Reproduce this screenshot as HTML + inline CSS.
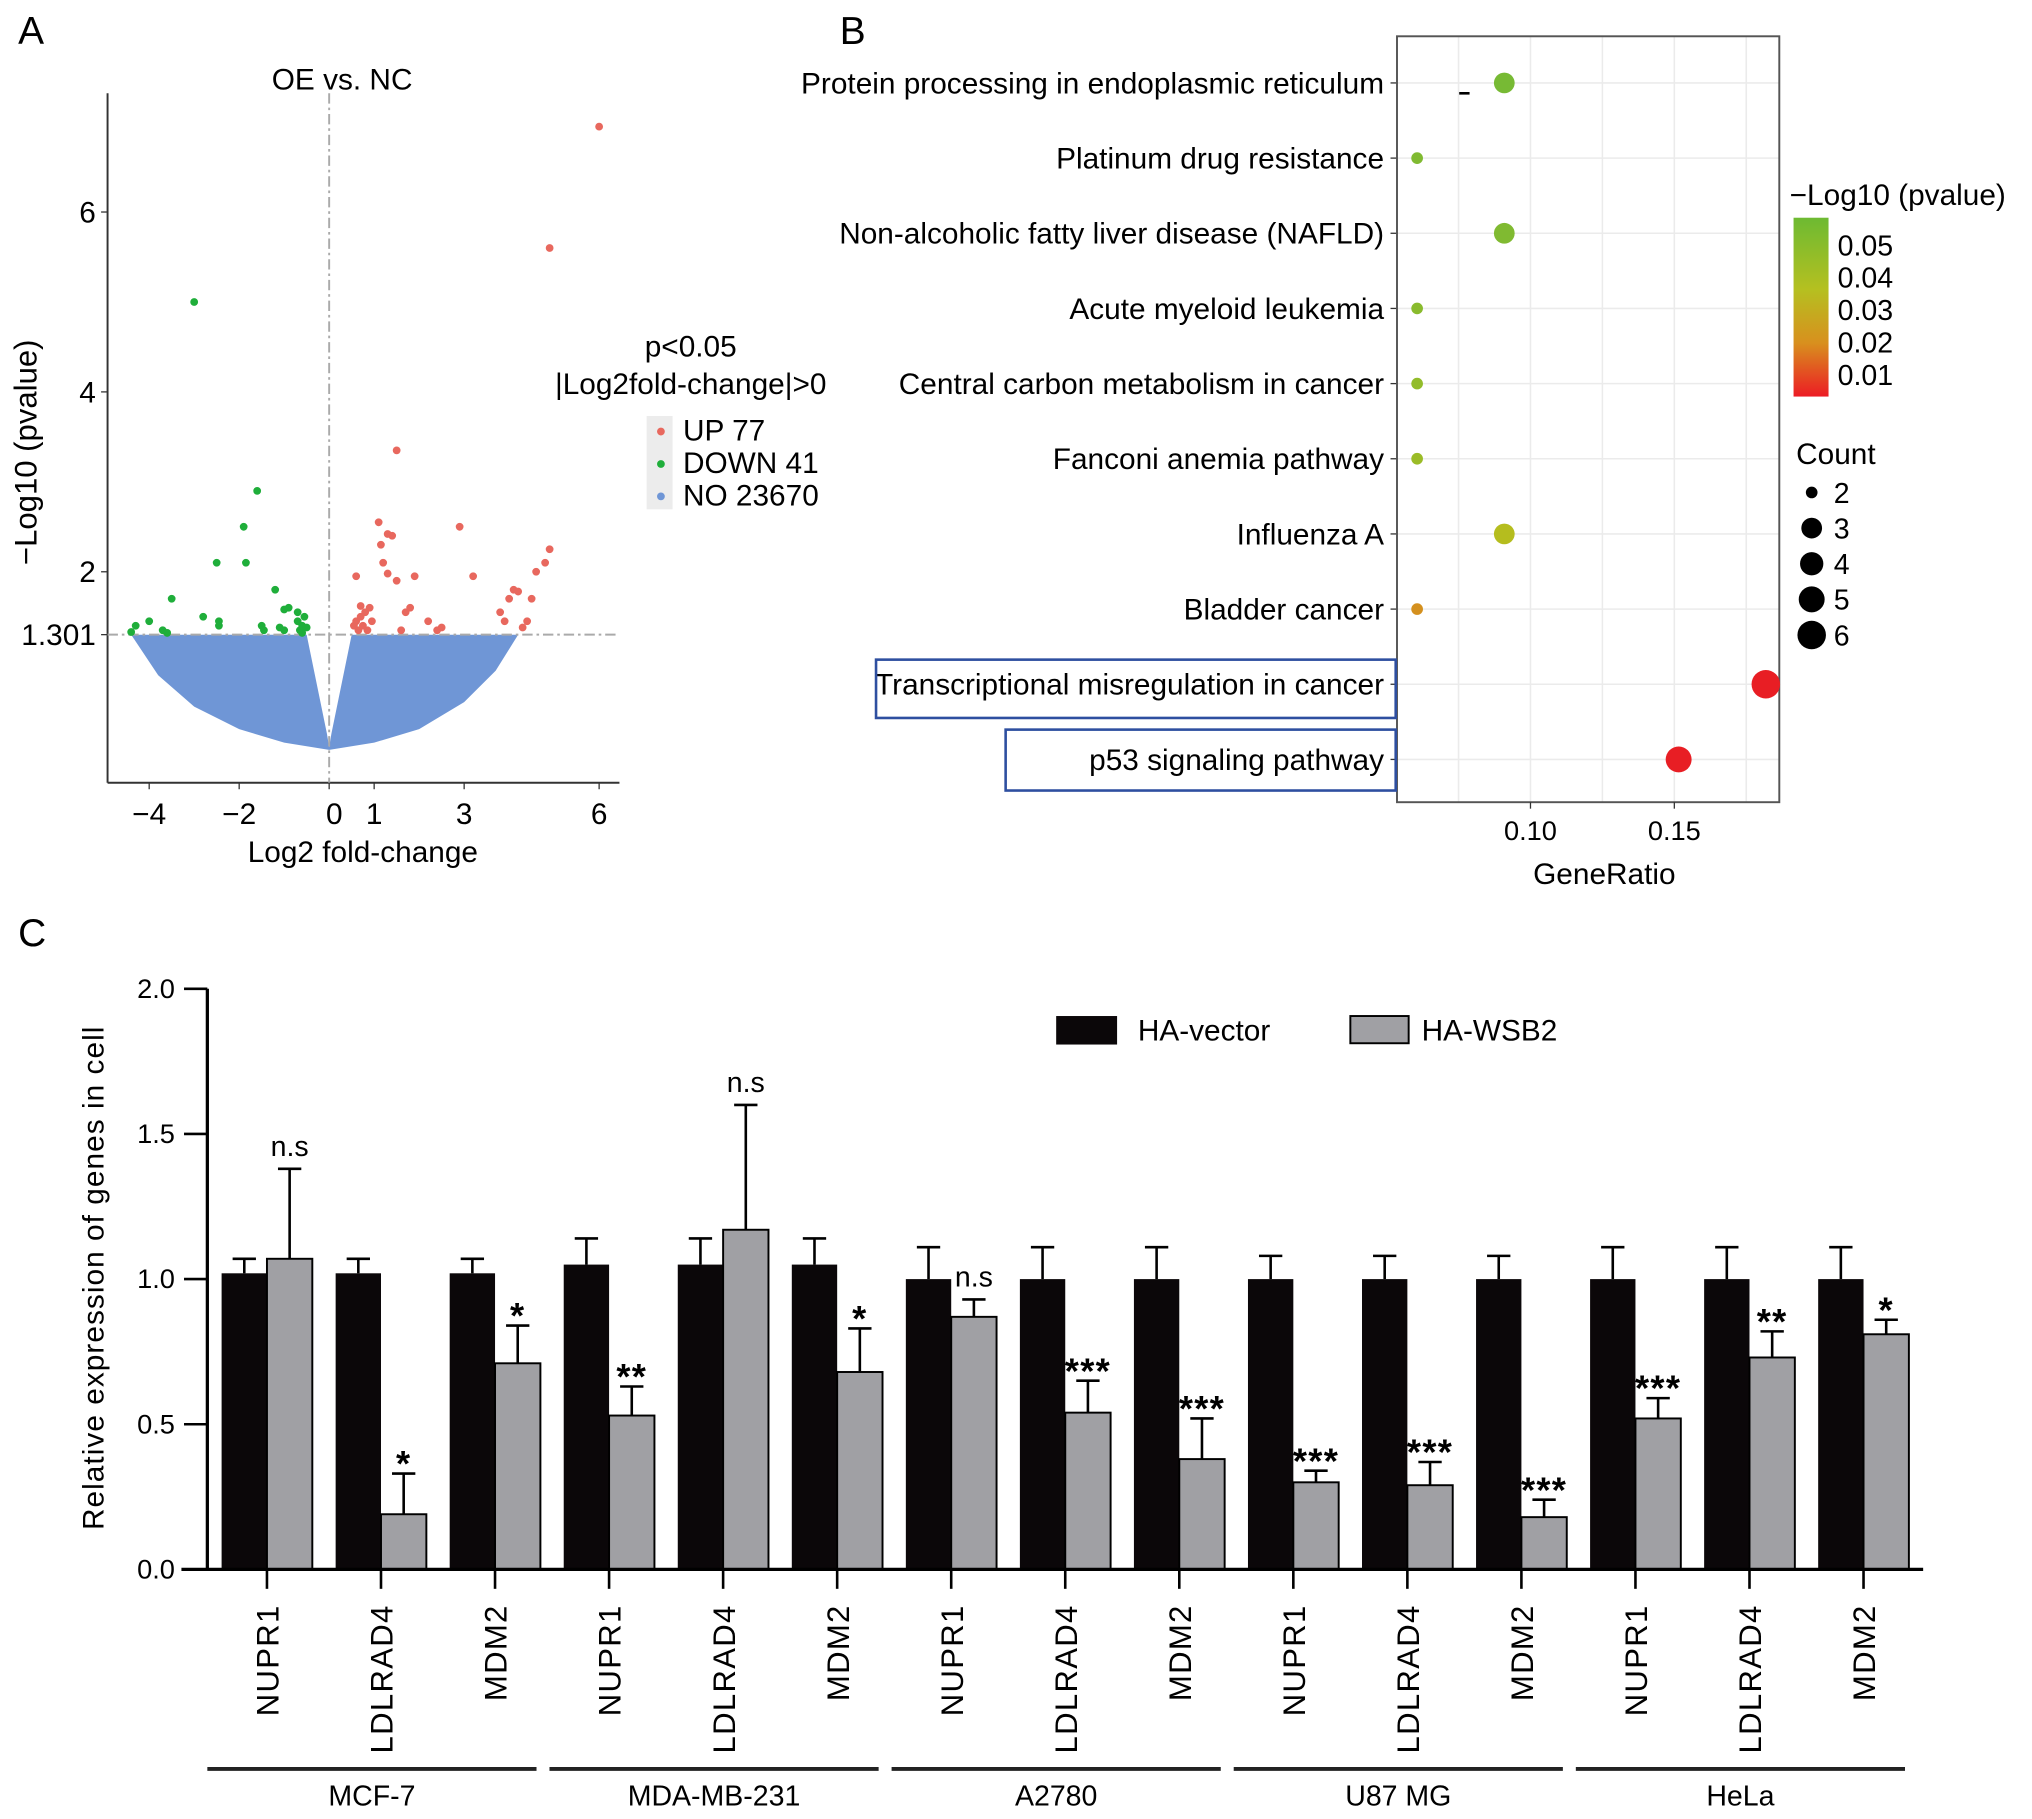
<!DOCTYPE html>
<html><head><meta charset="utf-8"><style>
html,body{margin:0;padding:0;background:#fff;}
svg{display:block;font-family:"Liberation Sans",Arial,sans-serif;}
</style></head><body>
<svg id="fig" width="2032" height="1819" viewBox="0 0 1568 1403.6" preserveAspectRatio="none" xmlns="http://www.w3.org/2000/svg">
<rect width="1568" height="1404" fill="#fff"/>
<text x="14" y="34" font-size="30">A</text>
<text x="648" y="34" font-size="30">B</text>
<text x="14" y="730" font-size="30">C</text>
<g id="pa"></g>
<g id="pb"></g>
<g id="pc"></g>
</svg>
<script>
const NS="http://www.w3.org/2000/svg";
function mk(parent,tag,attrs,txt){const e=document.createElementNS(NS,tag);for(const k in attrs)e.setAttribute(k,attrs[k]);if(txt!==undefined)e.textContent=txt;parent.appendChild(e);return e;}

/* ---------- Panel A data ---------- */
const upX=[6,4.9,1.5,1.1,1.4,1.3,2.9,1.15,4.9,1.2,3.2,1.3,1.9,1.5,0.6,4.6,4.8,4.1,4.2,4.0,4.5,3.8,1.7,1.8,2.2,2.5,2.4,1.6,4.4,4.3,3.9,0.6,0.7,0.8,0.9,0.75,0.85,0.65,0.95,0.55,0.7];
const upY=[6.95,5.6,3.35,2.55,2.4,2.42,2.5,2.3,2.25,2.1,1.95,1.98,1.95,1.9,1.95,2.0,2.1,1.8,1.78,1.7,1.7,1.55,1.55,1.6,1.45,1.38,1.35,1.35,1.45,1.38,1.45,1.45,1.5,1.55,1.6,1.4,1.35,1.35,1.45,1.4,1.62];
const downX=[-3,-1.6,-1.9,-1.85,-2.5,-1.2,-3.5,-2.8,-0.9,-1.0,-0.7,-2.45,-2.45,-4.0,-4.3,-4.4,-3.7,-3.6,-1.5,-1.45,-1.1,-1.0,-0.7,-0.6,-0.65,-0.55,-0.6,-0.5];
const downY=[5.0,2.9,2.5,2.1,2.1,1.8,1.7,1.5,1.6,1.58,1.55,1.45,1.4,1.45,1.4,1.33,1.35,1.32,1.4,1.35,1.38,1.35,1.45,1.4,1.35,1.5,1.32,1.38];
const cloudX=[-4.4,-3.8,-3,-2,-1,0,1,2,3,3.7,4.2,0.5,0.05,0,-0.05,-0.5];
const cloudY=[1.3,0.85,0.5,0.25,0.1,0.02,0.1,0.25,0.55,0.9,1.3,1.3,0.2,0.05,0.2,1.3];
const aXTicks=[-4,-2,0,1,3,6];
const aYTicks=[6,4,2,1.301];
const ax=v=>254+v*34.72, ay=v=>580-v*69.4;
const pa=document.getElementById('pa');
mk(pa,'line',{x1:83,y1:72,x2:83,y2:604,stroke:'#333','stroke-width':1.5});
mk(pa,'line',{x1:83,y1:604,x2:478,y2:604,stroke:'#333','stroke-width':1.5});
let cp=cloudX.map((x,i)=>ax(x)+','+ay(cloudY[i])).join(' ');
const cl=mk(pa,'polygon',{points:cp,fill:'#6f96d6'});


mk(pa,'line',{x1:ax(0),y1:72,x2:ax(0),y2:604,stroke:'#aaa','stroke-width':1.5,'stroke-dasharray':'8,3,2,3'});
mk(pa,'line',{x1:83,y1:ay(1.301),x2:478,y2:ay(1.301),stroke:'#aaa','stroke-width':1.5,'stroke-dasharray':'8,3,2,3'});
upX.forEach((x,i)=>{const c=mk(pa,'circle',{cx:ax(x),cy:ay(upY[i]),r:3,fill:'#e8685e'});

});
downX.forEach((x,i)=>{const c=mk(pa,'circle',{cx:ax(x),cy:ay(downY[i]),r:3,fill:'#1fae3a'});

});
aXTicks.forEach(v=>{mk(pa,'line',{x1:ax(v),y1:604,x2:ax(v),y2:609,stroke:'#333'});
const t=mk(pa,'text',{x:ax(v)+(v===0?4:0),y:636,'font-size':23,'text-anchor':'middle'},v<0?'\u2212'+(-v):String(v));

});
aYTicks.forEach(v=>{mk(pa,'line',{x1:78,y1:ay(v),x2:83,y2:ay(v),stroke:'#333'});
const t=mk(pa,'text',{x:74,y:ay(v)+8,'font-size':23,'text-anchor':'end'},String(v));

});
mk(pa,'text',{x:264,y:69,'font-size':23,'text-anchor':'middle',},'OE vs. NC');
mk(pa,'text',{x:280,y:665,'font-size':23,'text-anchor':'middle',},'Log2 fold-change');
mk(pa,'text',{x:0,y:0,'font-size':24,'text-anchor':'middle',transform:'translate(28,349) rotate(-90)',},'\u2212Log10 (pvalue)');
mk(pa,'text',{x:533,y:275,'font-size':23,'text-anchor':'middle',},'p<0.05');
mk(pa,'text',{x:533,y:304,'font-size':23,'text-anchor':'middle',},'|Log2fold-change|>0');
mk(pa,'rect',{x:499,y:321,width:20,height:72,fill:'#ececec'});
[['UP 77','#e8685e'],['DOWN 41','#1fae3a'],['NO 23670','#6f96d6']].forEach((d,i)=>{
mk(pa,'circle',{cx:510,cy:333+i*25,r:3,fill:d[1]});
const t=mk(pa,'text',{x:527,y:340+i*25,'font-size':23},d[0]);

});

/* ---------- Panel B data ---------- */
const pathways=['Protein processing in endoplasmic reticulum','Platinum drug resistance','Non-alcoholic fatty liver disease (NAFLD)','Acute myeloid leukemia','Central carbon metabolism in cancer','Fanconi anemia pathway','Influenza A','Bladder cancer','Transcriptional misregulation in cancer','p53 signaling pathway'];
const geneRatio=[0.0909,0.0606,0.0909,0.0606,0.0606,0.0606,0.0909,0.0606,0.1818,0.1515];
const counts=[3,2,3,2,2,2,3,2,6,5];
const pvals=[0.05,0.048,0.048,0.046,0.044,0.042,0.036,0.022,0.002,0.002];
const bTicks=[0.10,0.15];
const bx=v=>1181+(v-0.10)*2220, by=i=>64+i*58;
const rad=c=>[0,0,4.5,8,9,10,11][c];
function pcol(p){const t=Math.max(0,Math.min(1,(p-0.005)/0.047));
const stops=[[232,30,36],[215,140,30],[180,190,30],[110,185,55]];
const s=t*3,k=Math.min(2,Math.floor(s)),f=s-k;const a=stops[k],b=stops[k+1];
return 'rgb('+a.map((v,j)=>Math.round(v+(b[j]-v)*f)).join(',')+')';}
const pb=document.getElementById('pb');
[0.075,0.10,0.125,0.15,0.175].forEach(v=>mk(pb,'line',{x1:bx(v),y1:28,x2:bx(v),y2:619,stroke:'#ebebeb','stroke-width':1.2}));
pathways.forEach((p,i)=>{mk(pb,'line',{x1:1078,y1:by(i),x2:1373,y2:by(i),stroke:'#ebebeb','stroke-width':1.2});
mk(pb,'line',{x1:1073,y1:by(i),x2:1078,y2:by(i),stroke:'#333'});
const t=mk(pb,'text',{x:1068,y:by(i)+8,'font-size':23,'text-anchor':'end'},p);

});
mk(pb,'rect',{x:1078,y:28,width:295,height:591,fill:'none',stroke:'#555','stroke-width':1.5});
pathways.forEach((p,i)=>{const c=mk(pb,'circle',{cx:bx(geneRatio[i]),cy:by(i),r:rad(counts[i]),fill:pcol(pvals[i])});

});
mk(pb,'rect',{x:676,y:509,width:401,height:45,fill:'none',stroke:'#2e4fa0','stroke-width':2,});
mk(pb,'rect',{x:776,y:563,width:301,height:47,fill:'none',stroke:'#2e4fa0','stroke-width':2,});
mk(pb,'line',{x1:1126,y1:72,x2:1134,y2:72,stroke:'#000','stroke-width':2});
bTicks.forEach(v=>{mk(pb,'line',{x1:bx(v),y1:619,x2:bx(v),y2:624,stroke:'#333'});
const t=mk(pb,'text',{x:bx(v),y:648,'font-size':21,'text-anchor':'middle'},v.toFixed(2));

});
mk(pb,'text',{x:1238,y:682,'font-size':23,'text-anchor':'middle',},'GeneRatio');
const defs=mk(pb,'defs',{});
const lg=mk(defs,'linearGradient',{id:'cb',x1:0,y1:0,x2:0,y2:1});
[['0','#6dba32'],['0.4','#b5c020'],['0.7','#d8901e'],['1','#ec1c24']].forEach(s=>mk(lg,'stop',{offset:s[0],'stop-color':s[1]}));
mk(pb,'text',{x:1381,y:158,'font-size':23,},'\u2212Log10 (pvalue)');
mk(pb,'rect',{x:1384,y:168,width:27,height:138,fill:'url(#cb)',});
['0.05','0.04','0.03','0.02','0.01'].forEach((l,i)=>{const t=mk(pb,'text',{x:1418,y:197+i*25,'font-size':22},l);

});
mk(pb,'text',{x:1386,y:358,'font-size':23,},'Count');
[2,3,4,5,6].forEach((c,i)=>{mk(pb,'circle',{cx:1398,cy:380+i*27.5,r:rad(c),fill:'#000'});
const t=mk(pb,'text',{x:1415,y:388+i*27.5,'font-size':22},String(c));

});

/* ---------- Panel C data ---------- */
const genes=['NUPR1','LDLRAD4','MDM2','NUPR1','LDLRAD4','MDM2','NUPR1','LDLRAD4','MDM2','NUPR1','LDLRAD4','MDM2','NUPR1','LDLRAD4','MDM2'];
const cellLines=['MCF-7','MDA-MB-231','A2780','U87 MG','HeLa'];
const vecVals=[1.02,1.02,1.02,1.05,1.05,1.05,1.0,1.0,1.0,1.0,1.0,1.0,1.0,1.0,1.0];
const vecErr=[0.05,0.05,0.05,0.09,0.09,0.09,0.11,0.11,0.11,0.08,0.08,0.08,0.11,0.11,0.11];
const wsbVals=[1.07,0.19,0.71,0.53,1.17,0.68,0.87,0.54,0.38,0.30,0.29,0.18,0.52,0.73,0.81];
const wsbErr=[0.31,0.14,0.13,0.10,0.43,0.15,0.06,0.11,0.14,0.04,0.08,0.06,0.07,0.09,0.05];
const sigLabels=['n.s','*','*','**','n.s','*','n.s','***','***','***','***','***','***','**','*'];
const cYTicks=[0,0.5,1.0,1.5,2.0];
const cx=i=>206+i*88, cy=v=>1211-v*224;
const pc=document.getElementById('pc');
const BW=35;
genes.forEach((g,i)=>{
const x=cx(i);
mk(pc,'line',{x1:x-BW/2,y1:cy(vecVals[i]),x2:x-BW/2,y2:cy(vecVals[i]+vecErr[i]),stroke:'#000','stroke-width':2});
mk(pc,'line',{x1:x-BW/2-9,y1:cy(vecVals[i]+vecErr[i]),x2:x-BW/2+9,y2:cy(vecVals[i]+vecErr[i]),stroke:'#000','stroke-width':2});
const b1=mk(pc,'rect',{x:x-BW,y:cy(vecVals[i]),width:BW,height:cy(0)-cy(vecVals[i]),fill:'#0b0709'});


mk(pc,'line',{x1:x+BW/2,y1:cy(wsbVals[i]),x2:x+BW/2,y2:cy(wsbVals[i]+wsbErr[i]),stroke:'#000','stroke-width':2});
mk(pc,'line',{x1:x+BW/2-9,y1:cy(wsbVals[i]+wsbErr[i]),x2:x+BW/2+9,y2:cy(wsbVals[i]+wsbErr[i]),stroke:'#000','stroke-width':2});
const b2=mk(pc,'rect',{x:x,y:cy(wsbVals[i]),width:BW,height:cy(0)-cy(wsbVals[i]),fill:'#a0a0a4',stroke:'#000','stroke-width':1.5});


const ns=sigLabels[i]==='n.s';
const s=mk(pc,'text',{x:x+BW/2,y:cy(wsbVals[i]+wsbErr[i])-(ns?10:-2),'font-size':ns?22:28,'font-weight':ns?'normal':'bold','text-anchor':'middle','letter-spacing':ns?0:1},sigLabels[i]);


mk(pc,'line',{x1:x,y1:1211,x2:x,y2:1226,stroke:'#000','stroke-width':2});
const t=mk(pc,'text',{x:0,y:0,'font-size':24,'text-anchor':'end','letter-spacing':1,transform:'translate('+(x+9)+',1238) rotate(-90)'},g);


});
mk(pc,'line',{x1:160,y1:763,x2:160,y2:1212,stroke:'#000','stroke-width':2.5});
mk(pc,'line',{x1:140,y1:1211,x2:1484,y2:1211,stroke:'#000','stroke-width':2.5});
cYTicks.forEach(v=>{mk(pc,'line',{x1:142,y1:cy(v),x2:160,y2:cy(v),stroke:'#000','stroke-width':2});
const t=mk(pc,'text',{x:135,y:cy(v)+7,'font-size':21,'text-anchor':'end'},v.toFixed(1));

});
mk(pc,'text',{x:0,y:0,'font-size':23,'text-anchor':'middle','letter-spacing':0.8,transform:'translate(80,986) rotate(-90)',},'Relative expression of genes in cell');
cellLines.forEach((c,k)=>{const x0=cx(k*3)-46,x1=cx(k*3+2)+32;
mk(pc,'line',{x1:x0,y1:1365,x2:x1,y2:1365,stroke:'#222','stroke-width':3});
const t=mk(pc,'text',{x:(x0+x1)/2,y:1393,'font-size':22,'text-anchor':'middle'},c);

});
mk(pc,'rect',{x:815,y:784,width:47,height:22,fill:'#0b0709',});
mk(pc,'text',{x:878,y:803,'font-size':23,},'HA-vector');
mk(pc,'rect',{x:1042,y:784,width:45,height:21,fill:'#a0a0a4',stroke:'#000','stroke-width':1.5,});
mk(pc,'text',{x:1097,y:803,'font-size':23,},'HA-WSB2');
</script>
</body></html>
